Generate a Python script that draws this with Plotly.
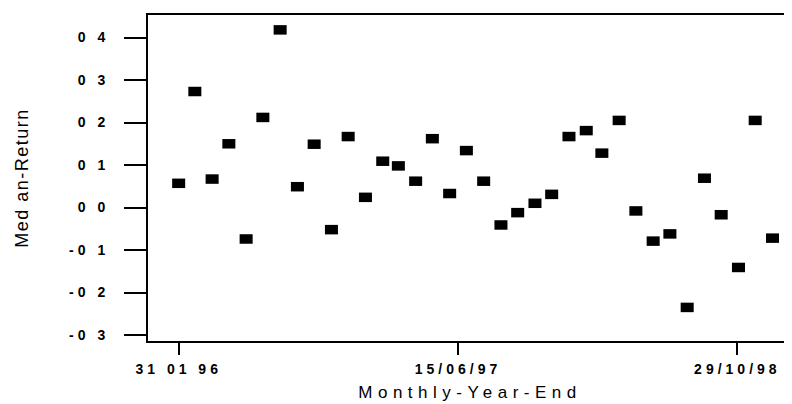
import plotly.graph_objects as go

# month-end observation dates, Jan 1996 - Dec 1998
dates = ["1996-01-31", "1996-02-29", "1996-03-31", "1996-04-30", "1996-05-31", "1996-06-30",
         "1996-07-31", "1996-08-31", "1996-09-30", "1996-10-31", "1996-11-30", "1996-12-31",
         "1997-01-31", "1997-02-28", "1997-03-31", "1997-04-30", "1997-05-31", "1997-06-30",
         "1997-07-31", "1997-08-31", "1997-09-30", "1997-10-31", "1997-11-30", "1997-12-31",
         "1998-01-31", "1998-02-28", "1998-03-31", "1998-04-30", "1998-05-31", "1998-06-30",
         "1998-07-31", "1998-08-31", "1998-09-30", "1998-10-31", "1998-11-30", "1998-12-31"]

median_return = [0.057, 0.273, 0.067, 0.150, -0.074, 0.212, 0.418, 0.049, 0.149, -0.052,
                 0.167, 0.024, 0.109, 0.098, 0.062, 0.162, 0.033, 0.134, 0.062, -0.041,
                 -0.012, 0.010, 0.031, 0.167, 0.181, 0.128, 0.205, -0.008, -0.079, -0.062,
                 -0.235, 0.069, -0.017, -0.141, 0.205, -0.072]

x_tick_vals = ["1996-01-31", "1997-06-15", "1998-10-29"]
x_tick_text = ["31 01 96", "15/06/97", "29/10/98"]

y_tick_vals = [0.4, 0.3, 0.2, 0.1, 0.0, -0.1, -0.2, -0.3]
y_tick_text = ["0 4", "0 3", "0 2", "0 1", "0 0", "-0 1", "-0 2", "-0 3"]


def spaced(s, px):
    return f'<span style="letter-spacing:{px}px">{s}</span>'


fig = go.Figure()
fig.add_trace(go.Scatter(
    x=dates, y=median_return, mode="markers",
    marker=dict(symbol="line-ew", size=9.3, color="black",
                line=dict(color="black", width=9.5)),
    showlegend=False,
))

# page body has an 8px margin, so the figure sits at (8, 8) in the window
fig.update_layout(
    width=784, height=396,
    margin=dict(l=140, r=0, t=7, b=63),
    plot_bgcolor="white", paper_bgcolor="white",
    font=dict(family="Liberation Sans, Arial, sans-serif", color="black"),
)

fig.update_xaxes(
    type="date", range=["1995-12-07", "1999-02-04"], automargin=False,
    tickvals=x_tick_vals, ticktext=[spaced(t, 4) for t in x_tick_text],
    ticks="outside", ticklen=12, tickwidth=2, tickcolor="black",
    tickfont=dict(size=14, weight="bold"), ticklabelstandoff=2,
    showline=True, linecolor="black", linewidth=2, mirror=True,
    showgrid=False, zeroline=False,
    title=dict(text=spaced("Monthly-Year-End", 5.5), font=dict(size=17), standoff=10),
)

fig.update_yaxes(
    range=[-0.314, 0.453], automargin=False,
    tickvals=y_tick_vals, ticktext=[spaced(t, 4) for t in y_tick_text],
    ticks="outside", ticklen=22, tickwidth=2, tickcolor="black",
    tickfont=dict(size=14, weight="bold"), ticklabelstandoff=12,
    showline=True, linecolor="black", linewidth=2,
    showgrid=False, zeroline=False,
    title=dict(text=spaced("Med an-Return", 1.5), font=dict(size=18), standoff=36),
)

fig.write_html("out.html")
